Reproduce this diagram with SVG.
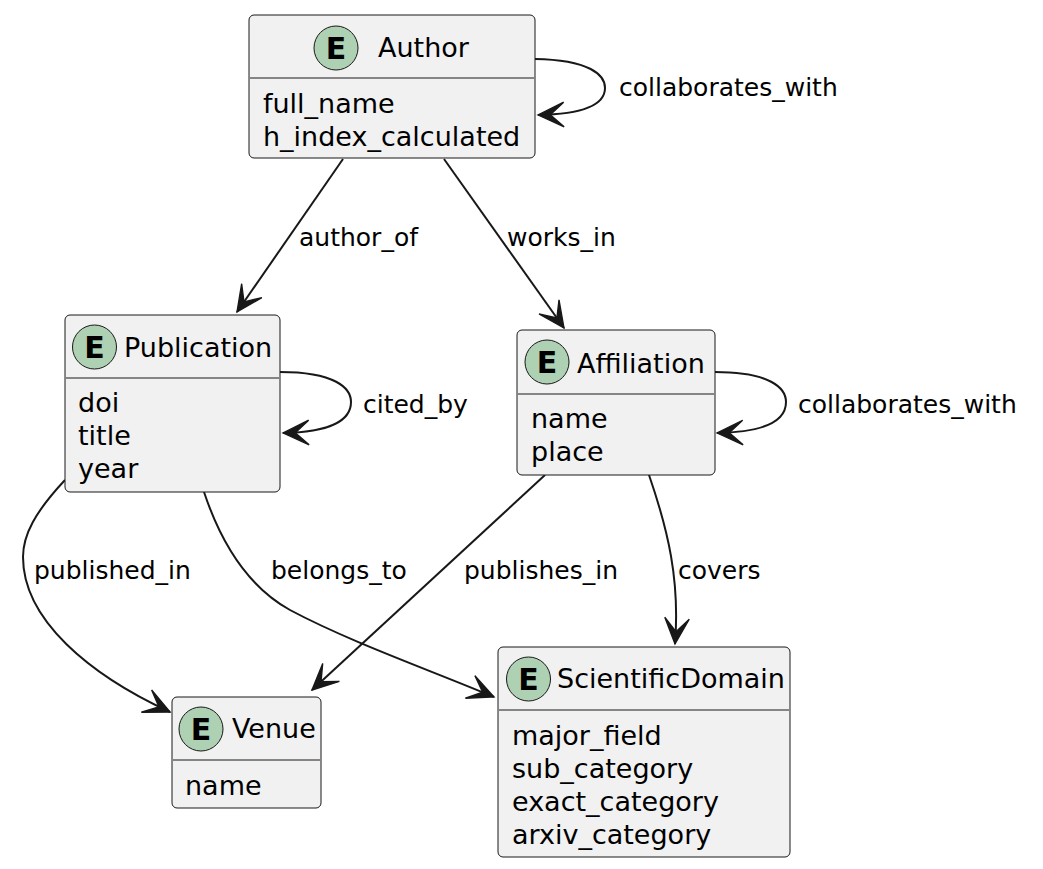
<svg xmlns="http://www.w3.org/2000/svg" width="1043" height="869" viewBox="0 0 1043 869">
<style>
.box{fill:#F1F1F1;stroke:#181818;stroke-width:1}
.sep{stroke:#181818;stroke-width:1}
.circ{fill:#ADD1B2;stroke:#181818;stroke-width:1}
.E{font-family:"DejaVu Sans",sans-serif;font-weight:bold;font-size:30px;fill:#000;text-anchor:middle}
.t{font-family:"DejaVu Sans",sans-serif;font-size:27px;fill:#000}
.lbl{font-family:"DejaVu Sans",sans-serif;font-size:25px;fill:#000}
.edge{fill:none;stroke:#181818;stroke-width:2;marker-end:url(#arr)}
</style>
<defs>
<marker id="arr" markerUnits="userSpaceOnUse" markerWidth="30" markerHeight="30" refX="0" refY="0" viewBox="-20 -10 22 20" orient="auto" overflow="visible">
<path d="M0,0 L-19,-9 L-9,0 L-19,9 Z" fill="#181818" stroke="#181818" stroke-width="1"/>
</marker>
</defs>
<rect width="1043" height="869" fill="#FFFFFF"/>
<g id="connectors">
<path class="edge" d="M535,59 C590,60 605,75 605,88 C605,102 590,114 538,115"/>
<text class="lbl" x="619" y="96">collaborates_with</text>
<path class="edge" d="M343,159 L237,312"/>
<text class="lbl" x="299" y="246">author_of</text>
<path class="edge" d="M444,159 L564,328"/>
<text class="lbl" x="507" y="246">works_in</text>
<path class="edge" d="M280,372 C335,372 351,388 351,402 C351,418 335,432 283,433"/>
<text class="lbl" x="363" y="413">cited_by</text>
<path class="edge" d="M715,372 C770,372 786,388 786,402 C786,418 770,432 717,433"/>
<text class="lbl" x="798" y="413">collaborates_with</text>
<path class="edge" d="M65,480 C35,512 23,535 23,557 C23,620 90,675 170,712"/>
<text class="lbl" x="34" y="579">published_in</text>
<path class="edge" d="M204,492 C220,540 245,585 290,610 C350,642 430,670 494,697"/>
<text class="lbl" x="271" y="579">belongs_to</text>
<path class="edge" d="M545,475 L312,690"/>
<text class="lbl" x="464" y="579">publishes_in</text>
<path class="edge" d="M649,475 C668,530 680,580 675,644"/>
<text class="lbl" x="678" y="579">covers</text>
</g>
<g id="Author">
<rect class="box" x="249" y="15" width="286" height="143" rx="5"/>
<circle class="circ" cx="336" cy="48" r="22"/>
<text class="E" x="336" y="59">E</text>
<text class="t" x="378" y="57">Author</text>
<line class="sep" x1="250" y1="78" x2="534" y2="78"/>
<text class="t" x="263" y="113">full_name</text>
<text class="t" x="263" y="146">h_index_calculated</text>
</g>
<g id="Publication">
<rect class="box" x="65" y="315" width="215" height="177" rx="5"/>
<circle class="circ" cx="94.5" cy="347" r="22"/>
<text class="E" x="94.5" y="358">E</text>
<text class="t" x="124" y="357">Publication</text>
<line class="sep" x1="66" y1="378" x2="279" y2="378"/>
<text class="t" x="78" y="412">doi</text>
<text class="t" x="78" y="445">title</text>
<text class="t" x="78" y="478">year</text>
</g>
<g id="Affiliation">
<rect class="box" x="517" y="330" width="198" height="145" rx="5"/>
<circle class="circ" cx="547" cy="362" r="22"/>
<text class="E" x="547" y="373">E</text>
<text class="t" x="577" y="373">Affiliation</text>
<line class="sep" x1="518" y1="394" x2="714" y2="394"/>
<text class="t" x="531" y="428">name</text>
<text class="t" x="531" y="461">place</text>
</g>
<g id="Venue">
<rect class="box" x="172" y="697" width="149" height="111" rx="5"/>
<circle class="circ" cx="201" cy="729" r="22"/>
<text class="E" x="201" y="740">E</text>
<text class="t" x="232" y="738">Venue</text>
<line class="sep" x1="173" y1="760" x2="320" y2="760"/>
<text class="t" x="185" y="795">name</text>
</g>
<g id="ScientificDomain">
<rect class="box" x="498" y="647" width="292" height="210" rx="5"/>
<circle class="circ" cx="528.5" cy="679" r="22"/>
<text class="E" x="528.5" y="690">E</text>
<text class="t" x="557" y="688">ScientificDomain</text>
<line class="sep" x1="499" y1="710" x2="789" y2="710"/>
<text class="t" x="512" y="745">major_field</text>
<text class="t" x="512" y="778">sub_category</text>
<text class="t" x="512" y="811">exact_category</text>
<text class="t" x="512" y="844">arxiv_category</text>
</g>
</svg>
